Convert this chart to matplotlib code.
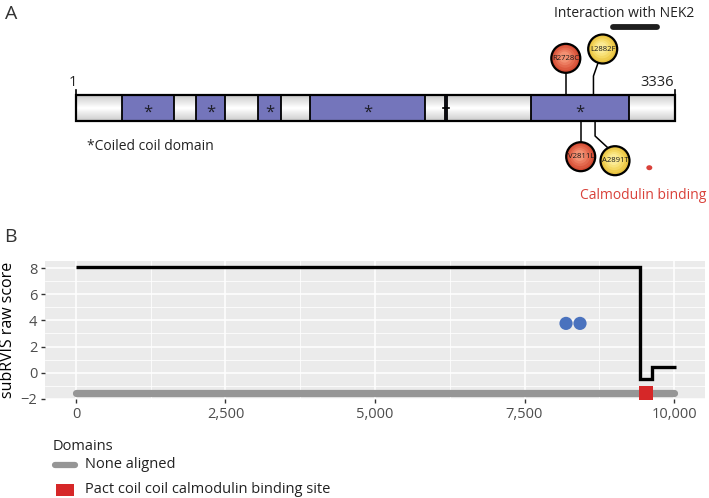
import numpy as np
import matplotlib
matplotlib.use("Agg")
import matplotlib.pyplot as plt
from matplotlib.patches import Rectangle, Ellipse
from matplotlib.lines import Line2D

plt.rcParams['font.family'] = ['Open Sans', 'DejaVu Sans']

# ---------------- data: panel A (protein residues) ----------------
protein_start = 1
protein_end = 3336
coil_domains = [(255, 547), (669, 831), (1014, 1142), (1304, 1944), (2534, 3080)]
tiny_domain = (2054, 2064)
mut_up_labels = ["R2728C", "L2882F"]
mut_up_pos = [2728, 2882]
mut_up_colors = ["red", "yellow"]
mut_down_labels = ["V2811L", "A2891T"]
mut_down_pos = [2811, 2891]
mut_down_colors = ["red", "yellow"]
nek2_region = (2991, 3237)
calmodulin_site = 3193

# ---------------- data: panel B ----------------
step_x = [0, 9431, 9627, 10025]
step_y = [8.1, -0.5, 0.46, 0.46]
dots_x = [8194, 8428]
dots_y = [3.77, 3.77]
domain_line = (0, 10000)
domain_line_y = -1.52
pact_x = [9532]
pact_y = [-1.52]
x_ticks = [0, 2500, 5000, 7500, 10000]
x_ticklabels = ["0", "2,500", "5,000", "7,500", "10,000"]
y_ticks = [-2, 0, 2, 4, 6, 8]
legend_title = "Domains"
legend_labels = ["None aligned", "Pact coil coil calmodulin binding site"]

W, H = 709, 498
fig = plt.figure(figsize=(W / 100, H / 100), dpi=100)

def fx(px):
    return px / W

def fy(py):
    return 1 - py / H

# ---------------- Panel A ----------------
res_per_px = (protein_end - protein_start) / (675 - 76)
def res(px):
    return protein_start + (px - 76) * res_per_px

axA = fig.add_axes([0, 0, 1, 1], zorder=0)
axA.set_xlim(res(0), res(W))
axA.set_ylim(H, 0)
axA.axis('off')

bar_top, bar_bot = 95, 121
grad = np.concatenate([np.linspace(0, 1, 20), np.linspace(1, 0, 20)])
shade = 0.80 + 0.20 * grad
img = np.dstack([shade[:, None].repeat(2, 1)] * 3)
axA.imshow(img, extent=(protein_start, protein_end, bar_bot, bar_top),
           aspect='auto', interpolation='bilinear', zorder=1)
for s, e in coil_domains:
    axA.add_patch(Rectangle((s, bar_top), e - s, bar_bot - bar_top,
                            facecolor='#7475bb', edgecolor='black', lw=1.3, zorder=2))
    axA.text((s + e) / 2, 112.5, '*', ha='center', va='center', fontsize=12,
             color='#1e1e2a', zorder=3)
axA.add_patch(Rectangle((tiny_domain[0], bar_top), tiny_domain[1] - tiny_domain[0],
                        bar_bot - bar_top, facecolor='#7475bb', edgecolor='black',
                        lw=1.3, zorder=2))
axA.plot([tiny_domain[0] - 12, tiny_domain[1] + 12], [108, 108], color='black', lw=1.2, zorder=3)
axA.add_patch(Rectangle((protein_start, bar_top), protein_end - protein_start,
                        bar_bot - bar_top, facecolor='none', edgecolor='black',
                        lw=1.6, zorder=4))
axA.plot([protein_start, protein_start], [bar_top, 90], color='black', lw=1.2)
axA.plot([protein_end, protein_end], [bar_top, 90], color='black', lw=1.2)
axA.text(res(73), 82, str(protein_start), ha='center', va='center', fontsize=10.5, color='#222')
axA.text(res(674), 82, str(protein_end), ha='right', va='center', fontsize=10.5, color='#222')

fills = {"red": ['#d24a32', '#dc5a40', '#e46a4f', '#ec7c60', '#f29072'],
         "yellow": ['#e6c03e', '#eecc4e', '#f4d863', '#f8e27a', '#fbea94']}

def circle(cx_res, cy, color, label, d=29):
    cols = fills[color]
    n = len(cols)
    for i, c in enumerate(cols):
        f = 1 - i / (n + 1.5)
        axA.add_patch(Ellipse((cx_res - (1 - f) * 2 * res_per_px, cy - (1 - f) * 2),
                              d * f * res_per_px, d * f, facecolor=c,
                              edgecolor='none', zorder=5 + i * 0.01))
    axA.add_patch(Ellipse((cx_res, cy), d * res_per_px, d, facecolor='none',
                          edgecolor='black', lw=1.6, zorder=6))
    axA.text(cx_res, cy, label, ha='center', va='center', fontsize=5.6,
             color='#1a1a1a', zorder=7)

axA.plot([mut_up_pos[0]] * 2, [bar_top, 72], color='black', lw=1.1, zorder=1.5)
circle(mut_up_pos[0], 58.3, mut_up_colors[0], mut_up_labels[0])
axA.plot([mut_up_pos[1], mut_up_pos[1], res(598)], [bar_top, 76, 63], color='black', lw=1.1, zorder=1.5)
circle(res(602.7), 49, mut_up_colors[1], mut_up_labels[1])
axA.plot([mut_down_pos[0]] * 2, [bar_bot, 143], color='black', lw=1.1, zorder=1.5)
circle(mut_down_pos[0], 156.7, mut_down_colors[0], mut_down_labels[0])
axA.plot([mut_down_pos[1], mut_down_pos[1], res(607)], [bar_bot, 136, 147], color='black', lw=1.1, zorder=1.5)
circle(res(615), 160.7, mut_down_colors[1], mut_down_labels[1])

axA.plot(nek2_region, [26.7, 26.7], color='#1e1e1e', lw=4.2, solid_capstyle='round')
axA.text(res(624), 13, "Interaction with NEK2", ha='center', va='center', fontsize=10, color='#222')
axA.add_patch(Ellipse((calmodulin_site, 167.7), 6 * res_per_px, 5, facecolor='#d9413a', edgecolor='none'))
axA.text(res(706), 195, "Calmodulin binding", ha='right', va='center', fontsize=10, color='#d9413a')
axA.text(res(87), 146, "*Coiled coil domain", ha='left', va='center', fontsize=10, color='#222')

fig.text(fx(5), fy(14), "A", ha='left', va='center', fontsize=14, color='#333')
fig.text(fx(4), fy(237), "B", ha='left', va='center', fontsize=14, color='#333')

# ---------------- Panel B ----------------
axB = fig.add_axes([fx(45), fy(399.3), fx(705) - fx(45), fy(260.7) - fy(399.3)], zorder=2)
axB.set_facecolor('#ebebeb')
axB.set_xlim(-518, 10518)
axB.set_ylim(-2.03, 8.56)
for sp in axB.spines.values():
    sp.set_visible(False)
axB.set_xticks(x_ticks)
axB.set_xticklabels(x_ticklabels)
axB.set_yticks(y_ticks)
axB.set_xticks([1250, 3750, 6250, 8750], minor=True)
axB.set_yticks([-1, 1, 3, 5, 7], minor=True)
axB.grid(True, which='major', color='white', lw=1.1)
axB.grid(True, which='minor', color='white', lw=0.55)
axB.set_axisbelow(True)
axB.tick_params(which='major', length=3, width=1, color='#333333', labelsize=10.5,
                labelcolor='#4d4d4d', pad=2.5)
axB.tick_params(which='minor', length=0)
axB.set_ylabel("subRVIS raw score", fontsize=11.5, color='black', labelpad=3)

axB.plot(domain_line, [domain_line_y] * 2, color='#969696', lw=5.2,
         solid_capstyle='round', zorder=2)
axB.plot(pact_x, pact_y, marker='s', markersize=10, color='#d62728', lw=0,
         markeredgewidth=0, zorder=3)
axB.plot(step_x, step_y, drawstyle='steps-post', color='black', lw=2.4, zorder=4,
         solid_joinstyle='miter', solid_capstyle='butt')
axB.scatter(dots_x, dots_y, s=90, color='#4a72be', edgecolors='none', zorder=5)

# ---------------- Legend ----------------
fig.text(fx(53), fy(446), legend_title, ha='left', va='center', fontsize=10.5, color='#222')
fig.add_artist(Line2D([fx(55), fx(75)], [fy(465), fy(465)], lw=4.5, color='#969696',
                      solid_capstyle='round', transform=fig.transFigure))
fig.text(fx(85), fy(465), legend_labels[0], ha='left', va='center', fontsize=10.5, color='#222')
fig.add_artist(Rectangle((fx(56), fy(496)), fx(74) - fx(56), fy(484) - fy(496),
                         facecolor='#d62728', edgecolor='none', transform=fig.transFigure))
fig.text(fx(85), fy(489), legend_labels[1], ha='left', va='center', fontsize=10.5, color='#222')

fig.savefig("out.png", dpi=100)
